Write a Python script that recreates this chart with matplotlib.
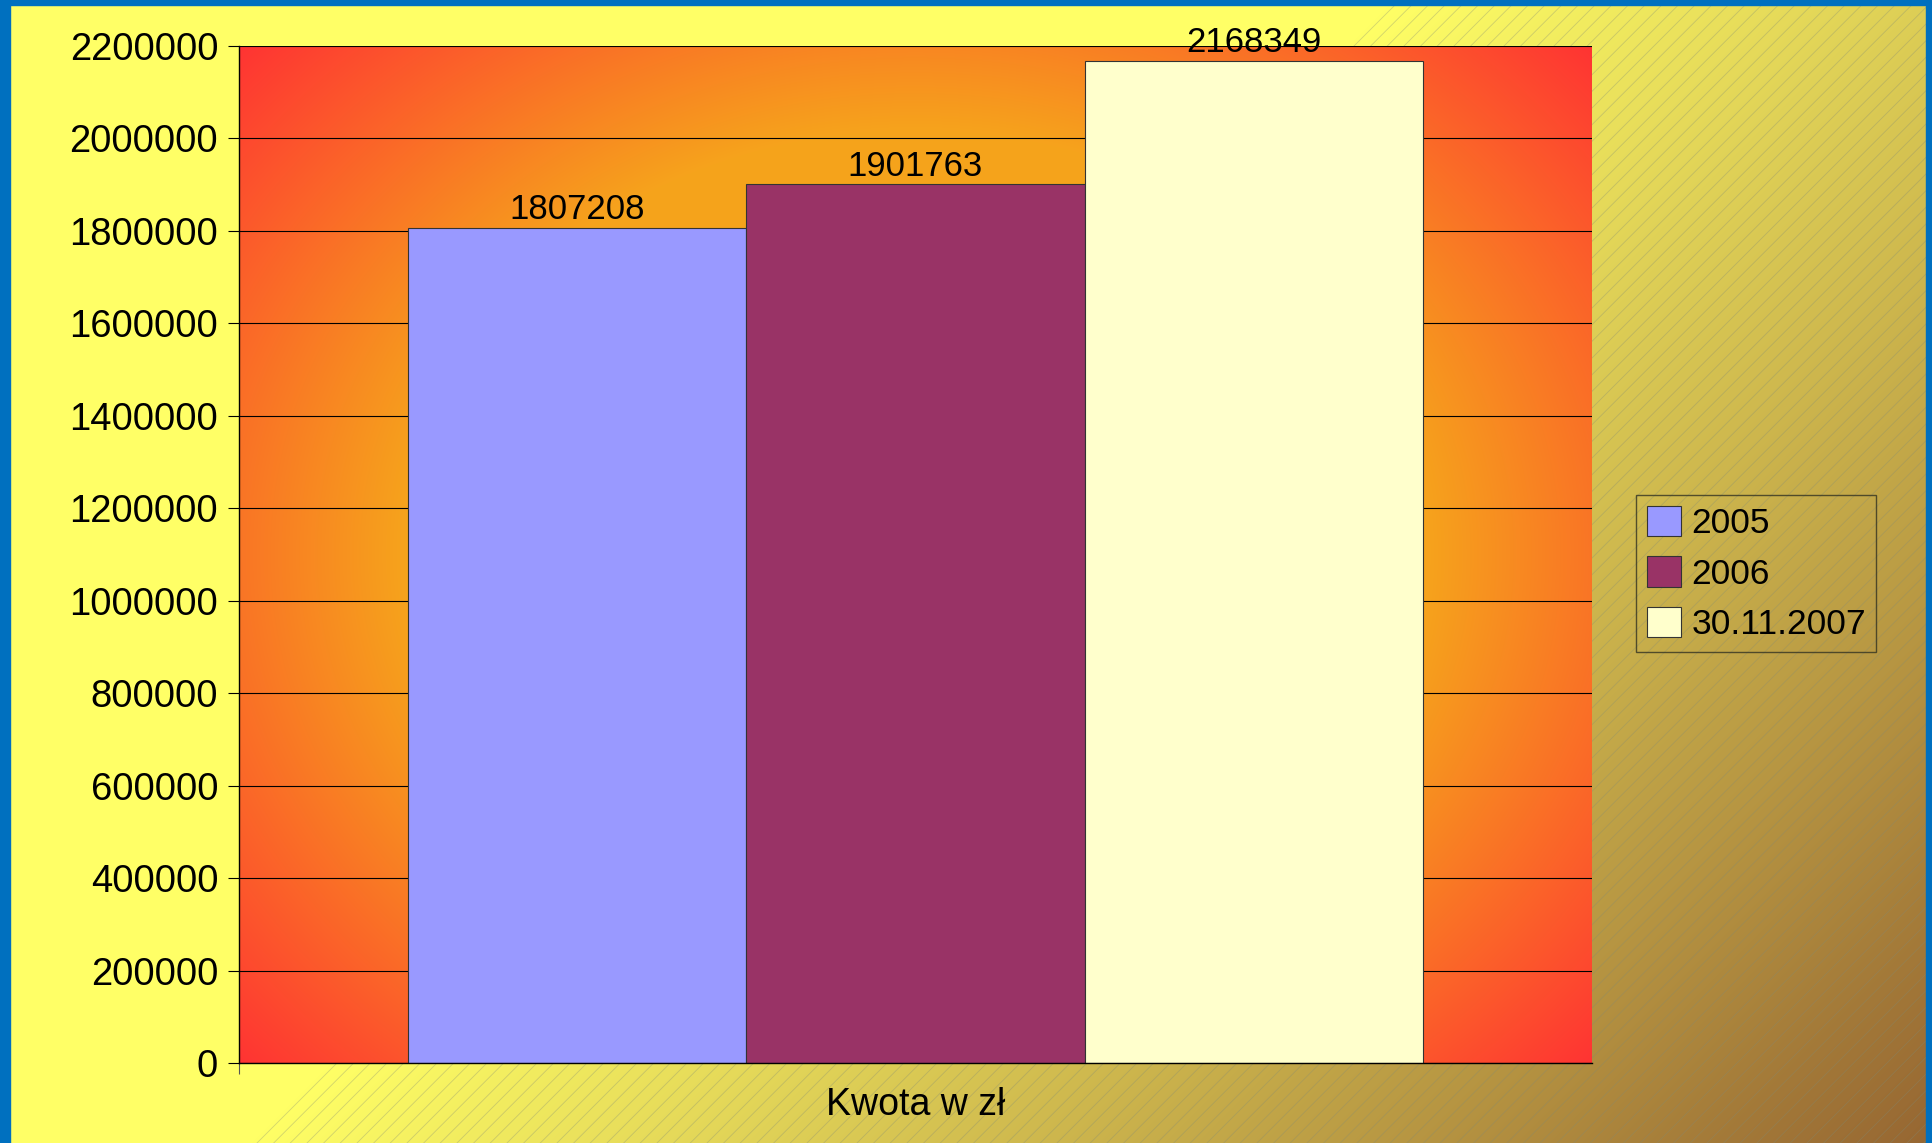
import numpy as np
import matplotlib
matplotlib.use("Agg")
import matplotlib.pyplot as plt
from matplotlib.patches import Polygon, Rectangle

# -----------------------------
# Data
# -----------------------------
category = "Kwota w zł"
series = ["2005", "2006", "30.11.2007"]
values = [1807208, 1901763, 2168349]
bar_colors = ["#9999FF", "#993366", "#FFFFCC"]
y_ticks = list(range(0, 2200001, 200000))

plt.rcParams["font.family"] = ["Liberation Sans", "DejaVu Sans"]
plt.rcParams["hatch.linewidth"] = 0.6

W, H, DPI = 1933, 1143, 100
fig = plt.figure(figsize=(W / DPI, H / DPI), dpi=DPI)

# -----------------------------
# Slide background: flat yellow, then diagonal gradient to brown
# -----------------------------
bg = fig.add_axes([0, 0, 1, 1], zorder=-10)
xx, yy = np.meshgrid(np.arange(W), np.arange(H))
s = np.clip((xx + yy - 1393) / (W + H - 1393), 0, 1)[..., None]
c0 = np.array([255, 255, 102]) / 255
c1 = np.array([150, 102, 50]) / 255
bg.imshow(c0 + (c1 - c0) * s, extent=(0, W, H, 0), aspect="auto", interpolation="bilinear")
bg.set_xlim(0, W)
bg.set_ylim(H, 0)
bg.axis("off")

# hatch over the gradient part only
bg.add_patch(Polygon([(1393, 0), (W, 0), (W, H), (250, H)], closed=True,
                     facecolor="none", edgecolor="#7f8a78", linewidth=0,
                     hatch="//", alpha=0.35))

# blue frame
blue = "#0070BF"
bg.add_patch(Rectangle((0, 0), 10, H, color=blue))
bg.add_patch(Rectangle((0, 0), W, 5, color=blue))
bg.add_patch(Rectangle((1926, 0), W - 1926, H, color=blue))

# -----------------------------
# Chart
# -----------------------------
left, right, top, bottom = 239, 1592, 46, 1063
ax = fig.add_axes([left / W, (H - bottom) / H, (right - left) / W, (bottom - top) / H])
ax.patch.set_alpha(0)

# plot area elliptical gradient (orange center, red corners)
pw, ph = right - left, bottom - top
gx, gy = np.meshgrid(np.linspace(-1, 1, pw), np.linspace(-1, 1, ph))
r = np.sqrt((0.74 * gx) ** 2 + (0.67 * gy) ** 2)
t = np.clip((r - 0.56) / 0.44, 0, 1)[..., None]
p0 = np.array([246, 163, 28]) / 255
p1 = np.array([255, 51, 51]) / 255
ax.imshow(p0 + (p1 - p0) * t, extent=(-2, 2, 0, 2200000), aspect="auto", zorder=0)

x_pos = [-1, 0, 1]
for x, v, c, lab in zip(x_pos, values, bar_colors, series):
    ax.bar(x, v, width=1, color=c, edgecolor="#333333", linewidth=0.8, label=lab, zorder=2)
    ax.annotate(f"{v}", (x, v), xytext=(0, 6), textcoords="offset points",
                ha="center", va="baseline", fontsize=25, zorder=3)

ax.set_xlim(-2, 2)
ax.set_ylim(0, 2200000)
ax.set_yticks(y_ticks)
ax.set_yticklabels([str(v) for v in y_ticks], fontsize=27.5)
ax.yaxis.grid(True, color="black", linewidth=0.8)
ax.set_axisbelow(True)
ax.tick_params(axis="y", length=8, width=0.8, pad=7, colors="black")

ax.set_xticks([0])
ax.set_xticklabels([category], fontsize=27)
ax.set_xticks([-2], minor=True)
ax.tick_params(axis="x", which="major", length=0, pad=17)
ax.tick_params(axis="x", which="minor", length=8, width=0.8, color="#555555")

for side in ["top", "right"]:
    ax.spines[side].set_visible(False)
for side in ["left", "bottom"]:
    ax.spines[side].set_color("black")
    ax.spines[side].set_linewidth(1.0)

leg = fig.legend(loc="upper left", bbox_to_anchor=(1636 / W, 1 - 495 / H),
                 bbox_transform=fig.transFigure, borderaxespad=0,
                 fontsize=25.5, frameon=True, fancybox=False,
                 handlelength=0.96, handleheight=0.96, handletextpad=0.3,
                 labelspacing=0.45, borderpad=0.3)
leg.get_frame().set_facecolor("none")
leg.get_frame().set_edgecolor("#333322")
leg.get_frame().set_linewidth(1.0)

fig.savefig("out.png", dpi=DPI)
